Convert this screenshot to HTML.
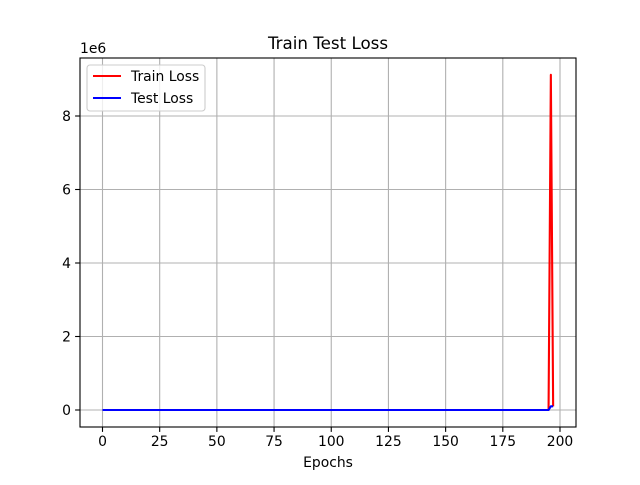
<!DOCTYPE html>
<html><head><meta charset="utf-8"><style>
body{margin:0;background:#fff}
svg text{font-family:"DejaVu Sans","Liberation Sans",sans-serif;fill:#000}
</style></head><body>
<svg id="chart" width="640" height="480" xmlns="http://www.w3.org/2000/svg">
<rect width="640" height="480" fill="#fff"/>
<g id="grid"></g>
<g id="series"></g>
<g id="axes"></g>
</svg>
<script>
const epochs = [];
const trainLoss = [
0,0,0,0,0,0,0,0,0,0, 0,0,0,0,0,0,0,0,0,0, 0,0,0,0,0,0,0,0,0,0, 0,0,0,0,0,0,0,0,0,0,
0,0,0,0,0,0,0,0,0,0, 0,0,0,0,0,0,0,0,0,0, 0,0,0,0,0,0,0,0,0,0, 0,0,0,0,0,0,0,0,0,0,
0,0,0,0,0,0,0,0,0,0, 0,0,0,0,0,0,0,0,0,0, 0,0,0,0,0,0,0,0,0,0, 0,0,0,0,0,0,0,0,0,0,
0,0,0,0,0,0,0,0,0,0, 0,0,0,0,0,0,0,0,0,0, 0,0,0,0,0,0,0,0,0,0, 0,0,0,0,0,0,0,0,0,0,
0,0,0,0,0,0,0,0,0,0, 0,0,0,0,0,0,0,0,0,0, 0,0,0,0,0,0,0,0,0,0, 0,0,0,0,0,0,9120000,100000
];
const testLoss = [
0,0,0,0,0,0,0,0,0,0, 0,0,0,0,0,0,0,0,0,0, 0,0,0,0,0,0,0,0,0,0, 0,0,0,0,0,0,0,0,0,0,
0,0,0,0,0,0,0,0,0,0, 0,0,0,0,0,0,0,0,0,0, 0,0,0,0,0,0,0,0,0,0, 0,0,0,0,0,0,0,0,0,0,
0,0,0,0,0,0,0,0,0,0, 0,0,0,0,0,0,0,0,0,0, 0,0,0,0,0,0,0,0,0,0, 0,0,0,0,0,0,0,0,0,0,
0,0,0,0,0,0,0,0,0,0, 0,0,0,0,0,0,0,0,0,0, 0,0,0,0,0,0,0,0,0,0, 0,0,0,0,0,0,0,0,0,0,
0,0,0,0,0,0,0,0,0,0, 0,0,0,0,0,0,0,0,0,0, 0,0,0,0,0,0,0,0,0,0, 0,0,0,0,0,0,100000,100000
];
for (let i = 0; i < trainLoss.length; i++) epochs.push(i);
const xTicks = [0,25,50,75,100,125,150,175,200];
const yTicks = [0,2,4,6,8];
const yTickLabels = ["0","2","4","6","8"];

const NS="http://www.w3.org/2000/svg";
const L=80,R=576,T=58,B=427;
const x=v=>102.5+(v-0)*(560-102.5)/200;
const y=v=>410-v/1e6*36.75;
function mk(tag,attrs,parent){const e=document.createElementNS(NS,tag);for(const k in attrs)e.setAttribute(k,attrs[k]);parent.appendChild(e);return e;}
const grid=document.getElementById('grid'),ser=document.getElementById('series'),ax=document.getElementById('axes');
xTicks.forEach(t=>{
  const g=mk('line',{x1:x(t),x2:x(t),y1:T,y2:B,stroke:'#b0b0b0','stroke-width':1.1},grid);
  
  
  mk('line',{x1:x(t),x2:x(t),y1:B,y2:B+4.9,stroke:'#000','stroke-width':1.1},ax);
  const tx=mk('text',{x:x(t),y:B+19,'font-size':13.9,'text-anchor':'middle'},ax);
  tx.textContent=t;
  
  
});
yTicks.forEach((t,i)=>{
  const g=mk('line',{x1:L,x2:R,y1:y(t*1e6),y2:y(t*1e6),stroke:'#b0b0b0','stroke-width':1.1},grid);
  
  
  mk('line',{x1:L-4.9,x2:L,y1:y(t*1e6),y2:y(t*1e6),stroke:'#000','stroke-width':1.1},ax);
  const tx=mk('text',{x:L-9,y:y(t*1e6)+5,'font-size':13.9,'text-anchor':'end'},ax);
  tx.textContent=yTickLabels[i];
  
  
});
function line(data,color,name){
  const p=mk('polyline',{points:data.map((v,i)=>x(epochs[i])+','+y(v)).join(' '),fill:'none',stroke:color,'stroke-width':2.1,'stroke-linejoin':'round'},ser);
  
  
}
line(trainLoss,'#ff0000','train-loss-line');
line(testLoss,'#0000ff','test-loss-line');
const fr=mk('rect',{x:L,y:T,width:R-L,height:B-T,fill:'none',stroke:'#000','stroke-width':1.1},ax);


const title=mk('text',{x:328,y:49,'font-size':16.7,'text-anchor':'middle'},ax);
title.textContent='Train Test Loss';


const xl=mk('text',{x:328,y:467,'font-size':13.9,'text-anchor':'middle'},ax);
xl.textContent='Epochs';


const off=mk('text',{x:80,y:53,'font-size':13.9},ax);
off.textContent='1e6';


const lg=mk('g',{},ax);


mk('rect',{x:87,y:65,width:118,height:46,rx:3,fill:'#fff','fill-opacity':0.8,stroke:'#ccc','stroke-width':1.1},lg);
[['Train Loss','#ff0000',76],['Test Loss','#0000ff',98]].forEach(([n,c,yy])=>{
  const e=mk('g',{},lg);
  
  
  mk('line',{x1:93,x2:121,y1:yy,y2:yy,stroke:c,'stroke-width':2.1},e);
  const t=mk('text',{x:131,y:yy+5,'font-size':13.9},e);t.textContent=n;
});
</script>
</body></html>
